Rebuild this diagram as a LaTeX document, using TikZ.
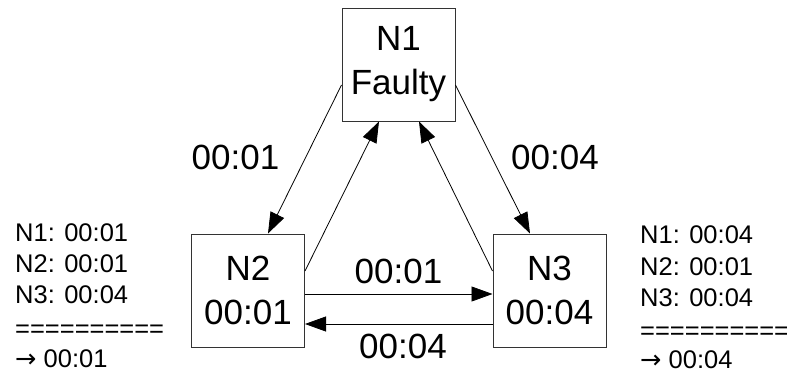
\documentclass[tikz,border=0pt]{standalone}
\usepackage{fontspec}
\setmainfont{Liberation Sans}
\newfontfamily\arrowfont{DejaVu Sans}
\usetikzlibrary{arrows.meta}
\begin{document}
\begin{tikzpicture}[x=1pt,y=-1pt,
  nodebox/.style={draw=black!80,line width=1pt,minimum width=113pt,minimum height=113pt,inner sep=0pt,align=center,font=\fontsize{35}{44}\selectfont},
  biglabel/.style={inner sep=0pt,font=\fontsize{35}{42}\selectfont},
  sidetext/.style={inner sep=0pt,anchor=base west,font=\fontsize{25.5}{30}\selectfont},
  msg/.style={line width=0.8pt,-{Triangle[length=21pt,width=15pt]}}]
\useasboundingbox (0,0) rectangle (787,372);
\node[nodebox] (n1) at (398.5,64.5) {N1\\Faulty};
\node[nodebox] (n2) at (248,290.5) {N2\\00:01};
\node[nodebox] (n3) at (549.5,290.5) {N3\\00:04};
\draw[msg] ([yshift=-20.5pt]n1.west) -- ([xshift=20pt]n2.north);
\draw[msg] ([yshift=19.5pt]n2.east) -- ([xshift=-19.5pt]n1.south);
\draw[msg] ([yshift=19.5pt]n3.west) -- ([xshift=20.5pt]n1.south);
\draw[msg] ([yshift=-20.5pt]n1.east) -- ([xshift=-19.5pt]n3.north);
\draw[msg] ([yshift=-3.5pt]n2.east) -- ([yshift=-3.5pt]n3.west);
\draw[msg] ([yshift=-33.5pt]n3.west) -- ([yshift=-33.5pt]n2.east);
\node[biglabel] (a) at (235.5,157) {00:01};
\node[biglabel] (b) at (555,157) {00:04};
\node[biglabel] (c) at (398.5,271) {00:01};
\node[biglabel] (d) at (403,346) {00:04};
\node[sidetext] (l1) at (15,241) {N1: 00:01};
\node[sidetext] (l2) at (15,272) {N2: 00:01};
\node[sidetext] (l3) at (15,303.5) {N3: 00:04};
\node[sidetext] (l4) at (15,337) {==========};
\node[sidetext] (l5) at (15,367) {{\arrowfont →} 00:01};
\node[sidetext] (r1) at (640,243) {N1: 00:04};
\node[sidetext] (r2) at (640,275) {N2: 00:01};
\node[sidetext] (r3) at (640,306) {N3: 00:04};
\node[sidetext] (r4) at (640,339) {==========};
\node[sidetext] (r5) at (640,368) {{\arrowfont →} 00:04};
\end{tikzpicture}
\end{document}
